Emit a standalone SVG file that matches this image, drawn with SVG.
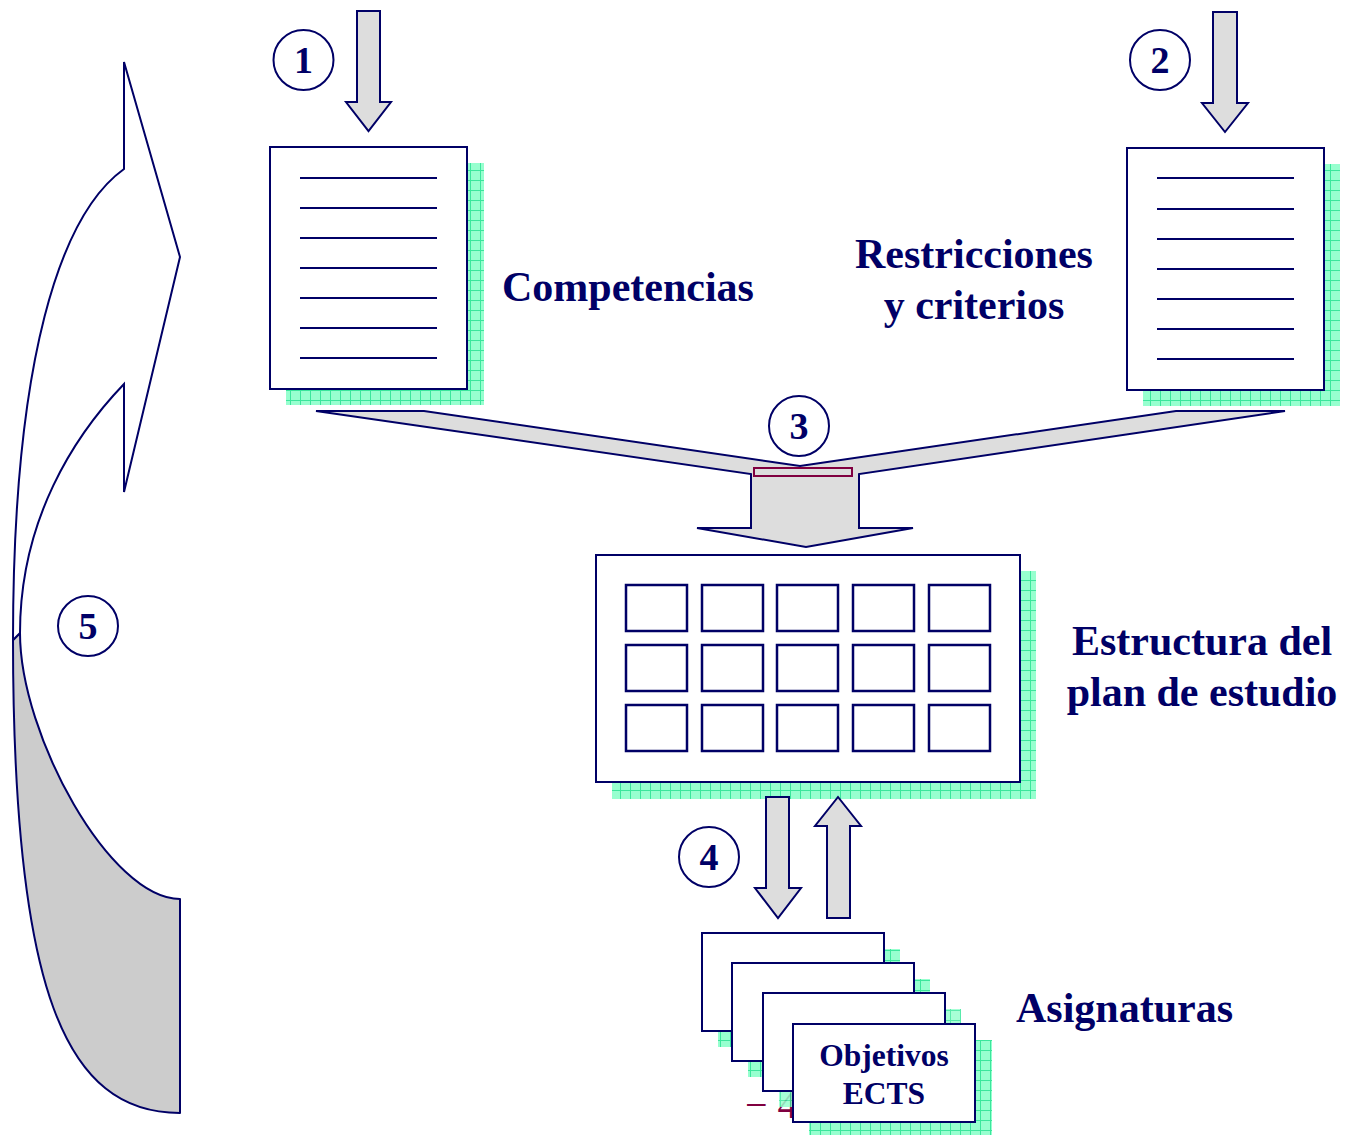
<svg xmlns="http://www.w3.org/2000/svg" width="1347" height="1135" viewBox="0 0 1347 1135">
  <defs>
    <pattern id="grid" x="0" y="0" width="10" height="10" patternUnits="userSpaceOnUse">
      <rect width="10" height="10" fill="#97FFCF"/>
      <path d="M0 0.5H10M0.5 0V10" stroke="#3BE69C" stroke-width="1"/>
    </pattern>
    <style>
      .ln { stroke: #000066; stroke-width: 2; fill: none; }
      .box { fill: #FFFFFF; stroke: #000066; stroke-width: 2; }
      .cell { fill: #FFFFFF; stroke: #000066; stroke-width: 2.5; }
      .shadow { fill: url(#grid); }
      .arrow { fill: #DDDDDD; stroke: #000066; stroke-width: 2; stroke-linejoin: miter; }
      .lbl { font-family: "Liberation Serif", "Times New Roman", serif; font-weight: bold; fill: #000066; }
      .big { font-size: 42px; }
      .num { font-size: 38px; text-anchor: middle; }
      .ring { fill: #FFFFFF; stroke: #000066; stroke-width: 2; }
    </style>
  </defs>

  <rect width="1347" height="1135" fill="#FFFFFF"/>

  <!-- step 5: curved return arrow -->
  <g id="loop-arrow">
    <path d="M20 633 C20 735 110 899 180 899 L180 1113 C65 1113 13 990 13 640 Z" fill="#CCCCCC" stroke="#000066" stroke-width="2" stroke-linejoin="round"/>
    <path d="M124 62 L180 257 L124 492 L124 384 C74 436 20 520 20 633 L13 640 C13 360 60 215 124 169 Z" fill="#FFFFFF" stroke="#000066" stroke-width="2" stroke-linejoin="miter"/>
  </g>

  <!-- document: Competencias -->
  <g id="doc-competencias">
    <rect class="shadow" x="286" y="163" width="198" height="242"/>
    <rect class="box" x="270" y="147" width="197" height="242"/>
    <path class="ln" d="M300 178H437M300 208H437M300 238H437M300 268H437M300 298H437M300 328H437M300 358H437"/>
    <text class="lbl big" x="502" y="301">Competencias</text>
  </g>

  <!-- document: Restricciones y criterios -->
  <g id="doc-restricciones">
    <rect class="shadow" x="1143" y="164" width="197" height="242"/>
    <rect class="box" x="1127" y="148" width="197" height="242"/>
    <path class="ln" d="M1157 178H1294M1157 209H1294M1157 239H1294M1157 269H1294M1157 299H1294M1157 329H1294M1157 359H1294"/>
    <text class="lbl big" x="974" y="268" text-anchor="middle">Restricciones</text>
    <text class="lbl big" x="974" y="319" text-anchor="middle">y criterios</text>
  </g>

  <!-- plan structure grid -->
  <g id="plan-estructura">
    <rect class="shadow" x="612" y="571" width="424" height="228"/>
    <rect class="box" x="596" y="555" width="424" height="227"/>
    <g>
      <rect class="cell" x="626" y="585" width="61" height="46"/>
      <rect class="cell" x="702" y="585" width="61" height="46"/>
      <rect class="cell" x="777" y="585" width="61" height="46"/>
      <rect class="cell" x="853" y="585" width="61" height="46"/>
      <rect class="cell" x="929" y="585" width="61" height="46"/>
      <rect class="cell" x="626" y="645" width="61" height="46"/>
      <rect class="cell" x="702" y="645" width="61" height="46"/>
      <rect class="cell" x="777" y="645" width="61" height="46"/>
      <rect class="cell" x="853" y="645" width="61" height="46"/>
      <rect class="cell" x="929" y="645" width="61" height="46"/>
      <rect class="cell" x="626" y="705" width="61" height="46"/>
      <rect class="cell" x="702" y="705" width="61" height="46"/>
      <rect class="cell" x="777" y="705" width="61" height="46"/>
      <rect class="cell" x="853" y="705" width="61" height="46"/>
      <rect class="cell" x="929" y="705" width="61" height="46"/>
    </g>
    <text class="lbl big" x="1202" y="655" text-anchor="middle">Estructura del</text>
    <text class="lbl big" x="1202" y="706" text-anchor="middle">plan de estudio</text>
  </g>

  <!-- stacked course cards -->
  <g id="asignaturas">
    <text x="745" y="1118" font-family="Liberation Serif, Times New Roman, serif" font-size="40" fill="#800040">− 4</text>
    <rect class="shadow" x="718" y="949" width="182" height="98"/>
    <rect class="box" x="702" y="933" width="182" height="98"/>
    <rect class="shadow" x="748" y="979" width="182" height="98"/>
    <rect class="box" x="732" y="963" width="182" height="98"/>
    <rect class="shadow" x="779" y="1009" width="182" height="98" opacity="0.85"/>
    <rect class="box" x="763" y="993" width="182" height="98"/>
    <rect class="shadow" x="809" y="1040" width="183" height="98"/>
    <rect class="box" x="793" y="1024" width="182" height="98"/>
    <text class="lbl" x="884" y="1066" font-size="31.5" text-anchor="middle">Objetivos</text>
    <text class="lbl" x="884" y="1104" font-size="31.5" text-anchor="middle">ECTS</text>
    <text class="lbl big" x="1016" y="1022">Asignaturas</text>
  </g>

  <!-- block arrows between stages -->
  <g id="connectors">
    <path class="arrow" d="M357 11H380V102H391L368.5 131L346 102H357Z"/>
    <path class="arrow" d="M1213 12H1237V103H1248L1225 132L1202 103H1213Z"/>
    <path class="arrow" d="M316 411H424L800 466L1176 411H1285L859 474V528H913L806 547L697 528H751V474Z"/>
    <rect x="754" y="468" width="98" height="8" fill="#DDDDDD" stroke="#800040" stroke-width="2"/>
    <path class="arrow" d="M766 797H789V888H801L778 918L755 888H766Z"/>
    <path class="arrow" d="M827 918H850V826H861L838 797L815 826H827Z"/>
  </g>

  <!-- step markers -->
  <g id="step-1"><circle class="ring" cx="303.5" cy="60" r="30"/><text class="lbl num" x="303.5" y="73">1</text></g>
  <g id="step-2"><circle class="ring" cx="1160" cy="60" r="30"/><text class="lbl num" x="1160" y="73">2</text></g>
  <g id="step-3"><circle class="ring" cx="799" cy="426" r="30"/><text class="lbl num" x="799" y="439">3</text></g>
  <g id="step-4"><circle class="ring" cx="709" cy="857" r="30"/><text class="lbl num" x="709" y="870">4</text></g>
  <g id="step-5"><circle class="ring" cx="88" cy="626" r="30"/><text class="lbl num" x="88" y="639">5</text></g>
</svg>
